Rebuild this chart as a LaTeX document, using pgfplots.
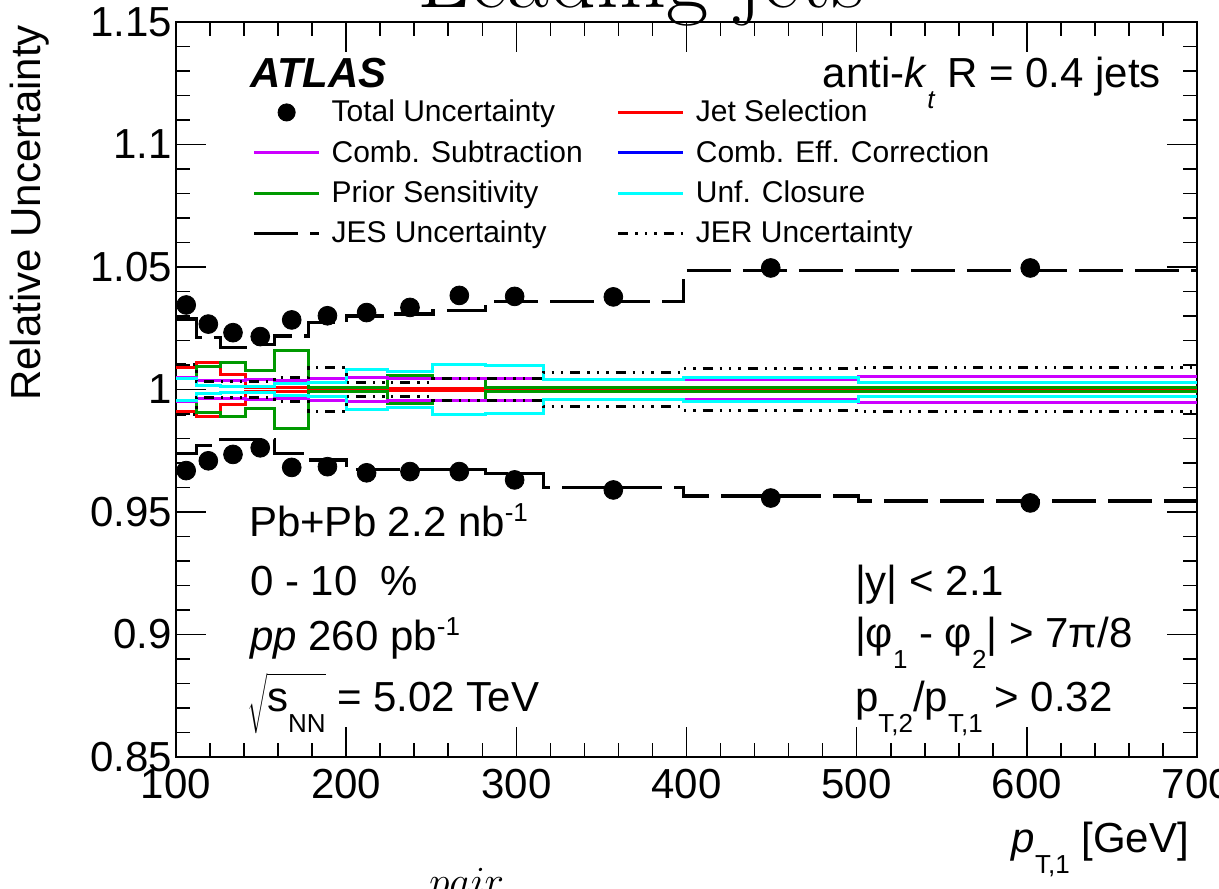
\documentclass[border=0pt]{standalone}
\usepackage{fontspec}
\usepackage{pgfplots}
\usepackage{pgfplotstable}
\pgfplotsset{compat=1.18}
\newfontfamily\helv{Liberation Sans}
\definecolor{rootmag}{rgb}{0.8,0,1}
\definecolor{rootgreen}{rgb}{0,0.6,0}
\definecolor{rootcyan}{rgb}{0,1,1}
\definecolor{rootred}{rgb}{1,0,0}
\definecolor{rootblue}{rgb}{0,0,1}
\newcommand\bigf{\helv\fontsize{21}{25}\selectfont}
\newcommand\legf{\helv\fontsize{15}{18}\selectfont}
\newcommand\lsub[2][13]{\raisebox{-0.5em}{\fontsize{#1}{#1}\selectfont #2}}
\newcommand\lsup[2][13]{\raisebox{0.36em}{\fontsize{#1}{#1}\selectfont #2}}
\pgfplotsset{
  linelegend/.style={legend image code/.code={\path (0pt,0pt) (32.5pt,0pt);\draw[mark repeat=2,mark phase=2,##1] plot coordinates {(0pt,0pt) (16.25pt,0pt) (32.5pt,0pt)};}},
  dotlegend/.style={legend image code/.code={\path (0pt,0pt) (32.5pt,0pt);\draw[##1] plot coordinates {(16.25pt,0pt)};}},
  jer/.style={dash pattern=on 5pt off 3.5pt on 1.2pt off 3.5pt on 1.2pt off 3.5pt on 1.2pt off 3.5pt},
  jes/.style={dash pattern=on 22pt off 6pt},
  hist/.style={line width=1.5pt, const plot mark left, forget plot},
}

% total uncertainty points (bin centres)
\pgfplotstableread{
x up lo
106 1.0345 0.9669
119 1.0267 0.9709
133.5 1.0232 0.9735
149.5 1.0216 0.9762
168 1.0284 0.9682
189 1.0301 0.9685
212 1.0314 0.9660
237.5 1.0335 0.9665
266.5 1.0384 0.9665
299 1.0380 0.9631
357 1.0378 0.9590
449.5 1.0496 0.9557
602 1.0496 0.9537
}\tabTot
% JES (bin left edges)
\pgfplotstableread{
x up lo
100 1.0288 0.9740
112 1.0213 0.9773
126 1.0172 0.9797
141 1.0184 0.9797
158 1.0218 0.9740
178 1.0273 0.9712
200 1.0300 0.9674
224 1.0308 0.9674
251 1.0322 0.9674
282 1.0358 0.9658
316 1.0358 0.9601
398 1.0485 0.9565
501 1.0485 0.9545
700 1.0485 0.9545
}\tabJES
% JER
\pgfplotstableread{
x up lo
100 1.0102 0.9898
112 1.0032 0.9968
126 1.0032 0.9968
141 1.0033 0.9967
158 1.0050 0.9950
178 1.0090 0.9910
200 1.0030 0.9970
224 1.0027 0.9973
251 1.0043 0.9957
282 1.0043 0.9957
316 1.0071 0.9929
398 1.0085 0.9915
501 1.0088 0.9912
700 1.0088 0.9912
}\tabJER
% Jet selection
\pgfplotstableread{
x up lo
100 1.0091 0.9909
112 1.0110 0.9890
126 1.0062 0.9938
141 1.0010 0.9990
158 1.0007 0.9993
178 1.0003 0.9997
200 1.0003 0.9997
224 1.0005 0.9995
251 1.0005 0.9995
282 1.0003 0.9997
316 1.0000 1.0000
398 1.0000 1.0000
501 1.0000 1.0000
700 1.0000 1.0000
}\tabSel
% Comb. subtraction
\pgfplotstableread{
x up lo
100 1.0050 0.9950
112 1.0038 0.9962
126 1.0038 0.9962
141 1.0040 0.9960
158 1.0035 0.9965
178 1.0043 0.9957
200 1.0048 0.9952
224 1.0044 0.9956
251 1.0043 0.9957
282 1.0043 0.9957
316 1.0042 0.9958
398 1.0042 0.9958
501 1.0054 0.9946
700 1.0054 0.9946
}\tabSub
% Comb. eff. correction
\pgfplotstableread{
x up lo
100 1.0045 0.9955
112 1.0015 0.9985
126 1.0012 0.9988
141 1.0012 0.9988
158 1.0007 0.9993
178 1.0007 0.9993
200 1.0007 0.9993
224 1.0005 0.9995
251 1.0005 0.9995
282 1.0007 0.9993
316 1.0007 0.9993
398 1.0007 0.9993
501 1.0007 0.9993
700 1.0007 0.9993
}\tabEff
% Prior sensitivity
\pgfplotstableread{
x up lo
100 1.0045 0.9955
112 1.0092 0.9908
126 1.0109 0.9891
141 1.0078 0.9922
158 1.0160 0.9840
178 1.0010 0.9990
200 1.0008 0.9992
224 1.0057 0.9943
251 1.0043 0.9957
282 1.0008 0.9992
316 1.0010 0.9990
398 1.0010 0.9990
501 1.0010 0.9990
700 1.0010 0.9990
}\tabPri
% Unfolding closure
\pgfplotstableread{
x up lo
100 1.0045 0.9955
112 1.0015 0.9985
126 1.0012 0.9988
141 1.0012 0.9988
158 1.0025 0.9975
178 1.0030 0.9970
200 1.0082 0.9918
224 1.0075 0.9925
251 1.0102 0.9898
282 1.0098 0.9902
316 1.0040 0.9960
398 1.0050 0.9950
501 1.0030 0.9970
700 1.0030 0.9970
}\tabUnf

\begin{document}
\begin{tikzpicture}
\useasboundingbox (-88pt,-65.5pt) rectangle (521.5pt,378.5pt);
\begin{axis}[
  at={(0,0)}, anchor=south west,
  width=510.5pt, height=367.5pt, scale only axis,
  xmin=100, xmax=700, ymin=0.85, ymax=1.15,
  xtick={100,200,300,400,500,600,700},
  ytick={0.85,0.9,0.95,1,1.05,1.1,1.15},
  yticklabels={0.85,0.9,0.95,1,1.05,1.1,1.15},
  minor x tick num=4, minor y tick num=4,
  tick align=inside,
  major tick length=15pt, minor tick length=7pt,
  every tick/.style={black, line width=0.8pt},
  axis line style={line width=1pt},
  /pgf/number format/assume math mode=true,
  tick label style={font=\bigf},
  xticklabel style={yshift=-2.5pt},
  yticklabel style={xshift=1.5pt},
  legend columns=2,
  legend cell align=left,
  linelegend,
  legend style={draw=none, fill=none, font=\legf,
    at={(axis cs:144.8,1.1183)}, anchor=north west,
    row sep=7.8pt, inner sep=0pt,
    nodes={inner sep=0pt},
    /tikz/every odd column/.append style={column sep=5.5pt},
    /tikz/every even column/.append style={column sep=17pt}},
]
% systematic components
\addplot[rootblue, hist] table[x=x,y=up]{\tabEff};
\addplot[rootblue, hist] table[x=x,y=lo]{\tabEff};
\addplot[rootred, hist] table[x=x,y=up]{\tabSel};
\addplot[rootred, hist] table[x=x,y=lo]{\tabSel};
\addplot[rootgreen, hist] table[x=x,y=up]{\tabPri};
\addplot[rootgreen, hist] table[x=x,y=lo]{\tabPri};
\addplot[rootmag, hist] table[x=x,y=up]{\tabSub};
\addplot[rootmag, hist] table[x=x,y=lo]{\tabSub};
\addplot[rootcyan, hist] table[x=x,y=up]{\tabUnf};
\addplot[rootcyan, hist] table[x=x,y=lo]{\tabUnf};
\addplot[black, hist, jer] table[x=x,y=up]{\tabJER};
\addplot[black, hist, jer] table[x=x,y=lo]{\tabJER};
\addplot[black, hist, line width=1.6pt, jes] table[x=x,y=up]{\tabJES};
\addplot[black, hist, line width=1.6pt, jes] table[x=x,y=lo]{\tabJES};
\addplot[only marks, mark=*, mark size=4.7pt, black, forget plot] table[x=x,y=up]{\tabTot};
\addplot[only marks, mark=*, mark size=4.7pt, black, forget plot] table[x=x,y=lo]{\tabTot};

% legend
\addlegendimage{only marks, mark=*, mark size=4.3pt, black, dotlegend}
\addlegendentry{Total Uncertainty}
\addlegendimage{rootred, line width=1.5pt}
\addlegendentry{Jet Selection}
\addlegendimage{rootmag, line width=1.5pt}
\addlegendentry{Comb. Subtraction}
\addlegendimage{rootblue, line width=1.5pt}
\addlegendentry{Comb. Eff. Correction}
\addlegendimage{rootgreen, line width=1.5pt}
\addlegendentry{Prior Sensitivity}
\addlegendimage{rootcyan, line width=1.5pt}
\addlegendentry{Unf. Closure}
\addlegendimage{black, line width=1.5pt, jes}
\addlegendentry{JES Uncertainty}
\addlegendimage{black, line width=1.5pt, jer}
\addlegendentry{JER Uncertainty}

% texts
\node[anchor=base west, font=\helv\fontsize{21}{25}\selectfont\bfseries\itshape] at (axis cs:139.4,1.1231) {ATLAS};
\node[anchor=base east, font=\bigf] at (axis cs:682.9,1.1231) {anti-\textit{k}\lsub{\textit{t}} R = 0.4 jets};
\node[anchor=base west, font=\bigf] at (axis cs:138.8,0.9398) {Pb+Pb 2.2 nb\lsup{-1}};
\node[anchor=base west, font=\bigf] at (axis cs:139.4,0.9161) {0 - 10\ \ \%};
\node[anchor=base west, font=\bigf] at (axis cs:139.4,0.8933) {\textit{pp} 260 pb\lsup{-1}};
\node[anchor=base west, font=\bigf] at (axis cs:137.6,0.8684) {$\sqrt{\mbox{\bigf\strut s\lsub{NN}}}$ = 5.02 TeV};
\node[anchor=base west, font=\bigf] at (axis cs:494.9,0.9161) {|y| < 2.1};
\node[anchor=base west, font=\bigf] at (axis cs:494.9,0.8945) {|φ\lsub{1} - φ\lsub{2}| > 7π/8};
\node[anchor=base west, font=\bigf] at (axis cs:494.9,0.8684) {p\lsub{T,2}/p\lsub{T,1} > 0.32};
\end{axis}
% axis titles and cut-off surrounding text
\node[rotate=90, anchor=east, font=\bigf] at (-73pt,369.5pt) {Relative Uncertainty};
\node[anchor=base east, font=\bigf] at (510pt,-47.5pt) {\textit{p}\lsub{T,1} [GeV]};
\node[anchor=base west, font=\fontsize{46}{52}\selectfont] at (117pt,374.5pt) {Leading jets};
\node[anchor=base west, font=\fontsize{20}{24}\selectfont] at (123pt,-69pt) {$pair$};
\end{tikzpicture}
\end{document}
